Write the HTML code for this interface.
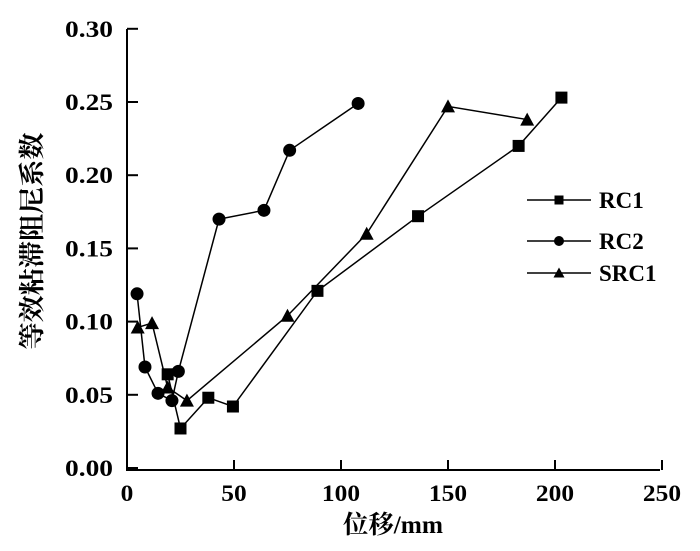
<!DOCTYPE html>
<html><head><meta charset="utf-8"><style>
body{margin:0;background:#fff}
svg text{font-family:"Liberation Serif","Noto Serif CJK SC",serif;font-weight:bold;fill:#000}
</style></head><body>
<svg width="700" height="546">
<g id="axes"></g><g id="series"></g><g id="legend"></g>
<text x="343" y="533" font-size="25" textLength="100" lengthAdjust="spacingAndGlyphs">位移/mm</text>
<text transform="translate(41,241) rotate(-90)" font-size="26" text-anchor="middle" textLength="217" lengthAdjust="spacingAndGlyphs">等效粘滞阻尼系数</text>
</svg>
<script>
const xTicks=[0,50,100,150,200,250];
const yTicks=[0,0.05,0.10,0.15,0.20,0.25,0.30];
const seriesNames=["RC1","RC2","SRC1"];
const rc1X=[19,25,38,49.5,89,136,183,203];
const rc1Y=[0.064,0.027,0.048,0.042,0.121,0.172,0.220,0.253];
const rc2X=[4.7,8.4,14.5,21,24,43,64,76,108];
const rc2Y=[0.119,0.069,0.051,0.046,0.066,0.170,0.176,0.217,0.249];
const src1X=[5,11.7,19,28,75,112,150,187];
const src1Y=[0.096,0.099,0.055,0.046,0.104,0.160,0.247,0.238];
const NS="http://www.w3.org/2000/svg";
const xs=v=>127+2.14*v, ys=v=>468-1464*v;
function mk(t,a,p){const e=document.createElementNS(NS,t);for(const k in a)e.setAttribute(k,a[k]);p.appendChild(e);return e;}
const ax=document.getElementById('axes');
let l=mk('path',{d:`M127 29V470H660`,stroke:'#000','stroke-width':2,fill:'none'},ax);


xTicks.forEach(v=>{const x=xs(v);
 mk('line',{x1:x,x2:x,y1:470,y2:460,stroke:'#000','stroke-width':2},ax);
 const s=String(v);
 const t=mk('text',{x:x,y:501,'font-size':23,'text-anchor':'middle',textLength:s.length*12.7,lengthAdjust:'spacingAndGlyphs'},ax);t.textContent=s;
 
 });
yTicks.forEach(v=>{const y=ys(v);
 mk('line',{x1:127,x2:138,y1:y,y2:y,stroke:'#000','stroke-width':2},ax);
 const t=mk('text',{x:113,y:y+8,'font-size':23,'text-anchor':'end',textLength:48,lengthAdjust:'spacingAndGlyphs'},ax);t.textContent=v.toFixed(2);
 
 });
function marker(type,x,y,s,p){
 if(type==0)return mk('rect',{x:x-s/2,y:y-s/2,width:s,height:s,fill:'#000'},p);
 if(type==1)return mk('circle',{cx:x,cy:y,r:s/2+0.5,fill:'#000'},p);
 return mk('polygon',{points:`${x},${y-s/2-1} ${x-s/2-1},${y+s/2} ${x+s/2+1},${y+s/2}`,fill:'#000'},p);}
const sg=document.getElementById('series');
[[rc1X,rc1Y],[rc2X,rc2Y],[src1X,src1Y]].forEach((d,i)=>{
 const g=mk('g',{},sg);
 
 
 mk('polyline',{points:d[0].map((x,j)=>xs(x)+','+ys(d[1][j])).join(' '),fill:'none',stroke:'#000','stroke-width':1.5},g);
 d[0].forEach((x,j)=>{const m=marker(i,xs(x),ys(d[1][j]),12,g);
  
  });
});
const lg=document.getElementById('legend');
[200,241,273].forEach((y,i)=>{
 const g=mk('g',{},lg);
 
 
 mk('line',{x1:527,x2:591,y1:y,y2:y,stroke:'#000','stroke-width':1.5},g);
 marker(i,559,y,9,g);
 const t=mk('text',{x:599,y:y+8,'font-size':23},g);t.textContent=seriesNames[i];});
</script>
</body></html>
